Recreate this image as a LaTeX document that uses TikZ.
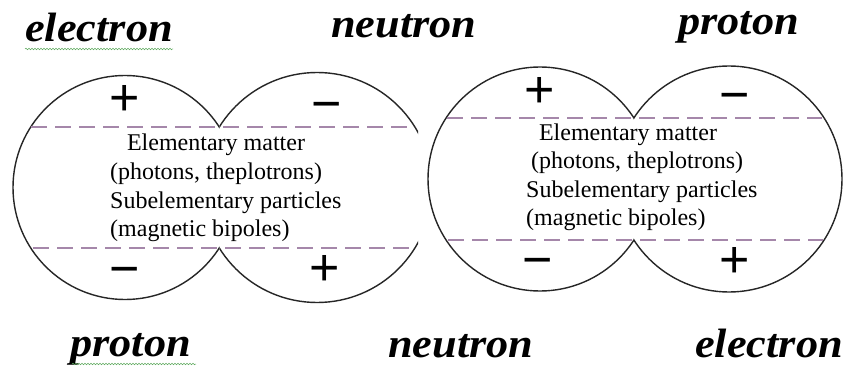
\documentclass[tikz,border=0pt]{standalone}
\usepackage{fontspec}
\setmainfont{Liberation Serif}
\newfontfamily\signfont{Liberation Sans}
\newfontfamily\partfont[FakeStretch=1.08]{Liberation Serif Bold Italic}
\usetikzlibrary{decorations.pathmorphing}
\definecolor{dashpurple}{RGB}{165,135,170}
\definecolor{spellgreen}{RGB}{95,170,95}

\begin{document}
\begin{tikzpicture}[
  x=1pt, y=-1pt,
  part/.style={font=\partfont\fontsize{41}{41}\selectfont, inner sep=0, anchor=base west},
  inner/.style={font=\fontsize{24}{28}\selectfont, inner sep=0},
  sign/.style={font=\signfont\fontsize{52}{52}\selectfont, inner sep=0},
  lobe/.style={draw=black!85, line width=1.4pt},
  dashline/.style={draw=dashpurple, line width=1.3pt, dash pattern=on 16pt off 8pt},
  spell/.style={draw=spellgreen, line width=0.5pt, decorate, decoration={snake, amplitude=0.8pt, segment length=3pt}}
]
\useasboundingbox (0,0) rectangle (848,366);
\fill[white] (0,0) rectangle (848,366);

\begin{scope}
  \clip (0,0) rectangle (219.3,366);
  \draw[lobe] (125,187.5) circle[radius=112pt];
\end{scope}
\begin{scope}
  \clip (219.3,0) rectangle (418,366);
  \draw[lobe] (317.1,187.5) circle[radius=115pt];
\end{scope}
\begin{scope}
  \clip (420,0) rectangle (633.9,366);
  \draw[lobe] (540,179) circle[radius=112pt];
\end{scope}
\begin{scope}
  \clip (633.9,0) rectangle (848,366);
  \draw[lobe] (729,179) circle[radius=113pt];
\end{scope}

\draw[dashline] (31,127) -- (415,127);
\draw[dashline] (33,248) -- (415,248);
\draw[dashline] (447,118) -- (822,118);
\draw[dashline] (448,240) -- (823,240);

\node[part] (eltop) at (25,42) {electron};
\node[part] (netop) at (331,38) {neutron};
\node[part] (prtop) at (678,35) {proton};
\node[part] (prbot) at (70,356) {proton};
\node[part] (nebot) at (388,357) {neutron};
\node[part] (elbot) at (695,357) {electron};
\draw[spell] (eltop.base west) ++(0,7) -- ++(148,0);
\draw[spell] (prbot.base west) ++(2,8) -- ++(124,0);

\node[inner, anchor=base] (lm1) at (216,151) {Elementary matter};
\node[inner, anchor=base] (lm2) at (216,179) {(photons, theplotrons)};
\node[inner, anchor=base west] (lm3) at (110,208) {Subelementary particles};
\node[inner, anchor=base west] (lm4) at (110,236) {(magnetic bipoles)};
\node[inner, anchor=base] (rm1) at (628,141) {Elementary matter};
\node[inner, anchor=base west] (rm2) at (531,169) {(photons, theplotrons)};
\node[inner, anchor=base west] (rm3) at (526,197) {Subelementary particles};
\node[inner, anchor=base west] (rm4) at (526,225) {(magnetic bipoles)};

\node[sign] (lpa) at (125,100) {+};
\node[sign] (lmb) at (327,112) {−};
\node[sign] (lmc) at (125,277) {−};
\node[sign] (lpd) at (325,270) {+};
\node[sign] (rpa) at (540,92) {+};
\node[sign] (rmb) at (735,103) {−};
\node[sign] (rmc) at (538,268) {−};
\node[sign] (rpd) at (735,262) {+};
\end{tikzpicture}
\end{document}
